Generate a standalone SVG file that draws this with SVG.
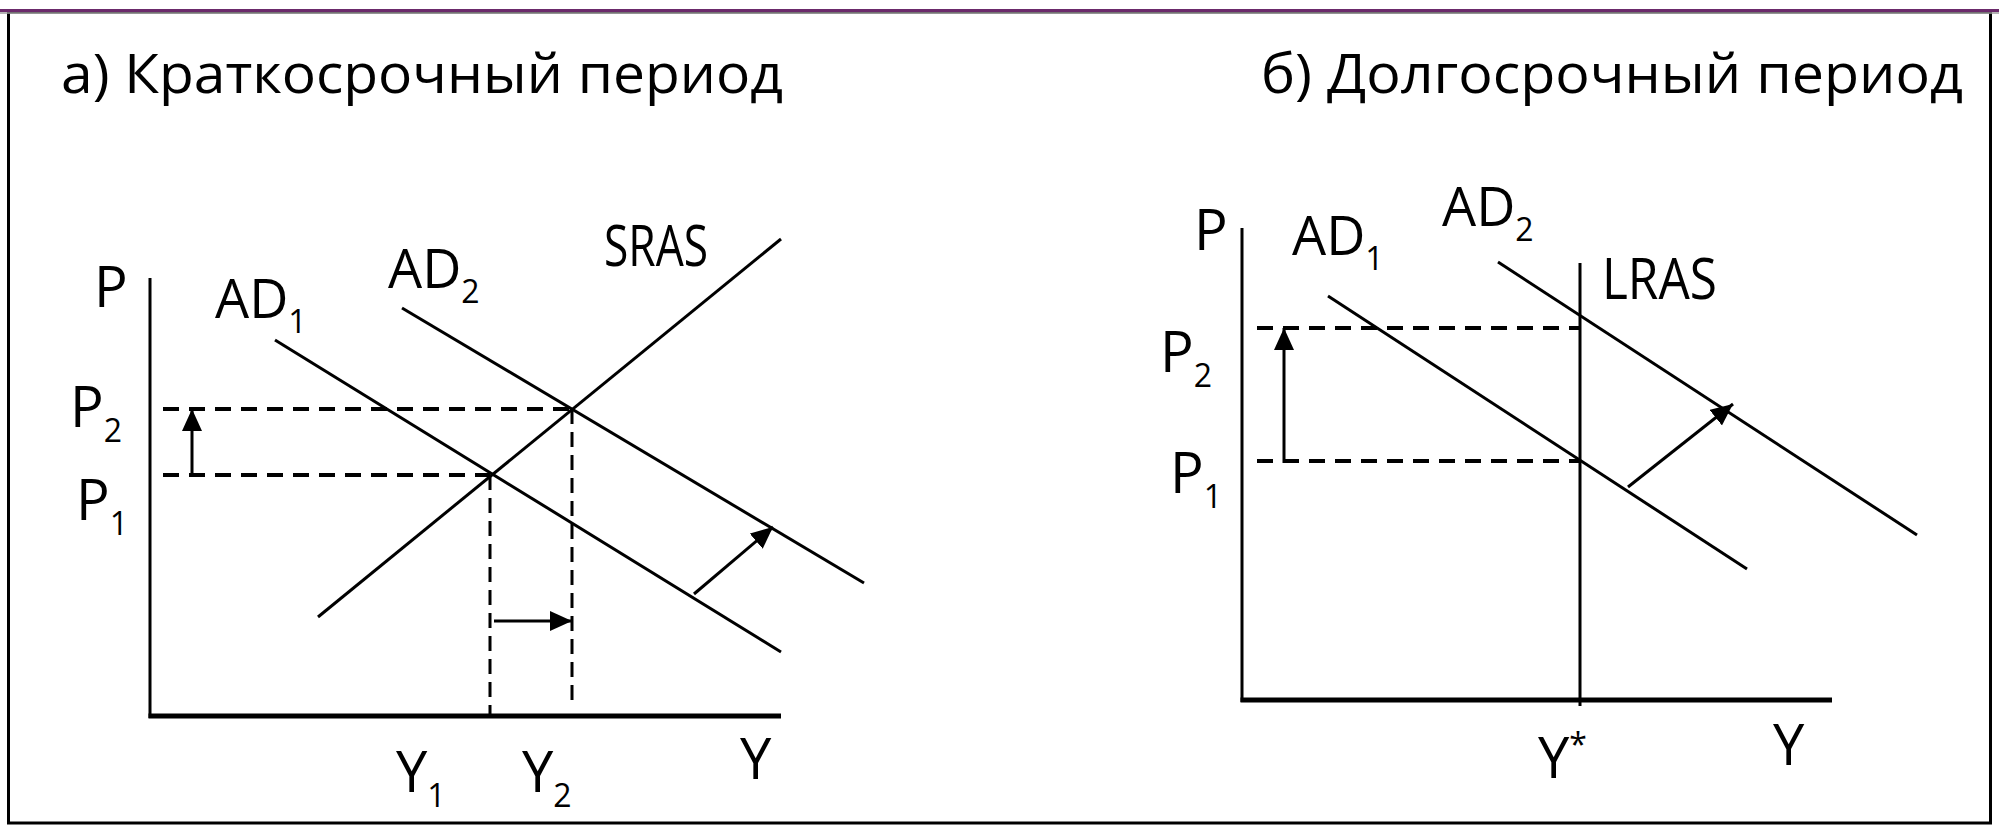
<svg xmlns="http://www.w3.org/2000/svg" width="1999" height="834" viewBox="0 0 1999 834">
<style>
text{font-family:"Open Sans","Noto Sans","DejaVu Sans",sans-serif;fill:#000}
.t{font-size:55px}
.lb{font-size:56px}
.ad{font-size:54px}
.sb{font-size:32px}
.ln{stroke:#000;stroke-width:3;fill:none;stroke-linecap:butt}
.ax{stroke:#000;stroke-width:3;fill:none}
.xa{stroke:#000;stroke-width:5;fill:none}
.dh{stroke:#000;stroke-width:4;fill:none;stroke-dasharray:16 10}
.dv{stroke:#000;stroke-width:3;fill:none;stroke-dasharray:15 8}
.ar{stroke:#000;stroke-width:3;fill:none}
</style>
<defs>
<marker id="ah" markerUnits="userSpaceOnUse" markerWidth="24" markerHeight="22" refX="22" refY="10" orient="auto">
<path d="M0,0 L22,10 L0,20 Z" fill="#000"/>
</marker>
</defs>
<rect x="0" y="0" width="1999" height="834" fill="#fff"/>
<g id="frame">
<rect x="8.5" y="12" width="1982" height="811" fill="none" stroke="#000" stroke-width="3"/>
<line x1="0" y1="10.5" x2="1999" y2="10.5" stroke="#6b2a6b" stroke-width="3"/>
<line x1="0" y1="13" x2="1999" y2="13" stroke="#9a9a9a" stroke-width="1.5"/>
</g>
<g id="title-a"><text class="t" x="61" y="93" textLength="722" lengthAdjust="spacingAndGlyphs">а) Краткосрочный  период</text></g>
<g id="title-b"><text class="t" x="1261" y="93" textLength="702" lengthAdjust="spacingAndGlyphs">б) Долгосрочный  период</text></g>

<g id="connectors">
<!-- left chart -->
<line class="ax" x1="150" y1="278" x2="150" y2="718"/>
<line class="xa" x1="148.5" y1="716" x2="781" y2="716"/>
<line class="ln" x1="275" y1="340" x2="781" y2="652"/>
<line class="ln" x1="402" y1="308" x2="864" y2="583"/>
<line class="ln" x1="318" y1="617" x2="781" y2="239"/>
<line class="dh" x1="163" y1="409" x2="572" y2="409"/>
<line class="dh" x1="163" y1="475" x2="490" y2="475"/>
<line class="dv" x1="490" y1="475" x2="490" y2="716"/>
<line class="dv" x1="572" y1="409" x2="572" y2="705"/>
<line class="ar" x1="192" y1="475" x2="192" y2="409" marker-end="url(#ah)"/>
<line class="ar" x1="494" y1="621" x2="572" y2="621" marker-end="url(#ah)"/>
<line class="ar" x1="694" y1="594" x2="773" y2="527" marker-end="url(#ah)"/>
<!-- right chart -->
<line class="ax" x1="1242" y1="228" x2="1242" y2="702"/>
<line class="xa" x1="1240.5" y1="700" x2="1832" y2="700"/>
<line class="ax" x1="1580" y1="263" x2="1580" y2="706"/>
<line class="ln" x1="1328" y1="296" x2="1747" y2="569"/>
<line class="ln" x1="1498" y1="262" x2="1917" y2="535"/>
<line class="dh" x1="1257" y1="328" x2="1580" y2="328"/>
<line class="dh" x1="1257" y1="461" x2="1580" y2="461"/>
<line class="ar" x1="1284" y1="463" x2="1284" y2="328" marker-end="url(#ah)"/>
<line class="ar" x1="1628" y1="487" x2="1733" y2="404" marker-end="url(#ah)"/>
</g>

<g id="label-P-a"><text class="lb" x="94" y="307">P</text></g>
<g id="label-AD1-a"><text class="ad" x="215" y="318">AD<tspan class="sb" dy="15">1</tspan></text></g>
<g id="label-AD2-a"><text class="ad" x="388" y="288">AD<tspan class="sb" dy="15">2</tspan></text></g>
<g id="label-SRAS"><text class="lb" x="604" y="266" textLength="104" lengthAdjust="spacingAndGlyphs">SRAS</text></g>
<g id="label-P2-a"><text class="lb" x="70" y="427">P<tspan class="sb" dy="15">2</tspan></text></g>
<g id="label-P1-a"><text class="lb" x="76" y="520">P<tspan class="sb" dy="15">1</tspan></text></g>
<g id="label-Y1"><text class="lb" x="396" y="792">Y<tspan class="sb" dy="15">1</tspan></text></g>
<g id="label-Y2"><text class="lb" x="522" y="792">Y<tspan class="sb" dy="15">2</tspan></text></g>
<g id="label-Y-a"><text class="lb" x="740" y="779">Y</text></g>

<g id="label-P-b"><text class="lb" x="1194" y="250">P</text></g>
<g id="label-AD1-b"><text class="ad" x="1292" y="255">AD<tspan class="sb" dy="15">1</tspan></text></g>
<g id="label-AD2-b"><text class="ad" x="1442" y="226">AD<tspan class="sb" dy="15">2</tspan></text></g>
<g id="label-LRAS"><text class="lb" x="1602" y="299" textLength="115" lengthAdjust="spacingAndGlyphs">LRAS</text></g>
<g id="label-P2-b"><text class="lb" x="1160" y="372">P<tspan class="sb" dy="15">2</tspan></text></g>
<g id="label-P1-b"><text class="lb" x="1170" y="493">P<tspan class="sb" dy="15">1</tspan></text></g>
<g id="label-Ystar"><text class="lb" x="1538" y="778">Y<tspan class="sb" dy="-22">*</tspan></text></g>
<g id="label-Y-b"><text class="lb" x="1773" y="765">Y</text></g>
</svg>
